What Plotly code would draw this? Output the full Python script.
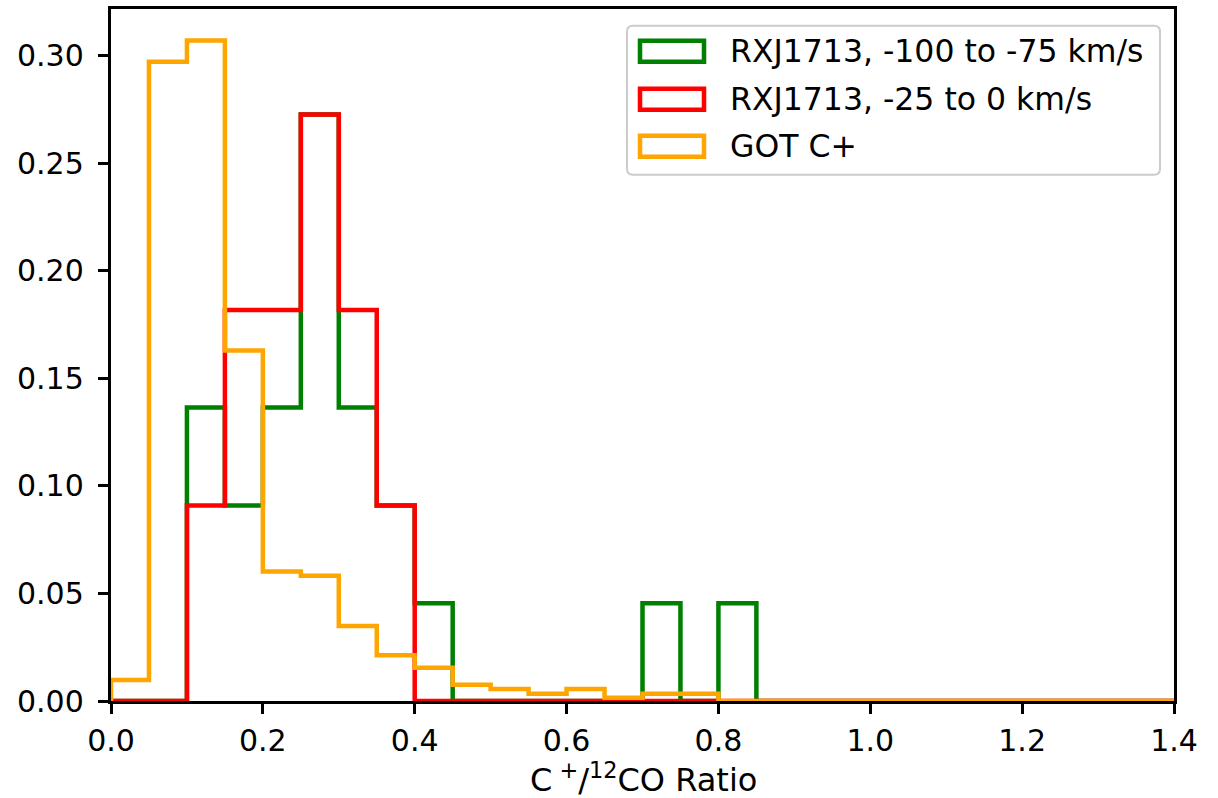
import numpy as np
import plotly.graph_objects as go

# ---- data (bin edges 0 .. 1.4, width 0.05) ----
bin_edges = [round(0.05 * i, 2) for i in range(29)]

green_vals = [0, 0, 0.1364, 0.0909, 0.1364, 0.2727, 0.1364, 0.0909, 0.0455, 0, 0, 0, 0, 0,
              0.0455, 0, 0.0455, 0, 0, 0, 0, 0, 0, 0, 0, 0, 0, 0]
red_vals = [0, 0, 0.0909, 0.1818, 0.1818, 0.2727, 0.1818, 0.0909, 0, 0, 0, 0, 0, 0,
            0, 0, 0, 0, 0, 0, 0, 0, 0, 0, 0, 0, 0, 0]
orange_vals = [0.0098, 0.2972, 0.307, 0.163, 0.0602, 0.0582, 0.0349, 0.0213, 0.0154, 0.0075,
               0.0056, 0.0034, 0.0056, 0.0015, 0.0034, 0.0034, 0, 0, 0, 0, 0, 0, 0, 0, 0, 0, 0, 0]

series_names = ["RXJ1713, -100 to -75 km/s", "RXJ1713, -25 to 0 km/s", "GOT C+"]
series_colors = ["#008000", "#ff0000", "#ffa500"]
x_ticks = [0.0, 0.2, 0.4, 0.6, 0.8, 1.0, 1.2, 1.4]
y_ticks = [0.0, 0.05, 0.10, 0.15, 0.20, 0.25, 0.30]

FONT = "DejaVu Sans"
FS = 30
LFS = 31.5


def step_path(edges, vals):
    xs = [edges[0]]
    ys = [0]
    for i, v in enumerate(vals):
        xs += [edges[i], edges[i + 1]]
        ys += [v, v]
    xs.append(edges[-1])
    ys.append(0)
    return xs, ys


fig = go.Figure()
for vals, name, col in zip([green_vals, red_vals, orange_vals], series_names, series_colors):
    xs, ys = step_path(bin_edges, vals)
    fig.add_trace(go.Scatter(x=xs, y=ys, mode="lines", name=name,
                             line=dict(color=col, width=4.5), showlegend=False,
                             hoverinfo="skip"))

# plot area pixel geometry
W, H = 1218, 798
L, R, T, B = 111, 1174, 9.3, 701.5


def px_to_paper(px, py):
    return (px - L) / (R - L), (B - py) / (B - T)


# legend box (rounded)
bx0, bx1, by0, by1 = 627, 1160, 26, 175
rad = 6
def P(px, py):
    x, y = px_to_paper(px, py)
    return f"{x:.5f},{y:.5f}"

path = (f"M {P(bx0+rad, by0)} L {P(bx1-rad, by0)} Q {P(bx1, by0)} {P(bx1, by0+rad)} "
        f"L {P(bx1, by1-rad)} Q {P(bx1, by1)} {P(bx1-rad, by1)} "
        f"L {P(bx0+rad, by1)} Q {P(bx0, by1)} {P(bx0, by1-rad)} "
        f"L {P(bx0, by0+rad)} Q {P(bx0, by0)} {P(bx0+rad, by0)} Z")
shapes = [dict(type="path", path=path, xref="paper", yref="paper",
               line=dict(color="#cccccc", width=2), fillcolor="rgba(255,255,255,0.8)")]

annotations = []
row_y = [51.5, 99.5, 146.5]
for name, col, ry in zip(series_names, series_colors, row_y):
    x0, y0 = px_to_paper(640, ry - 10.5)
    x1, y1 = px_to_paper(704, ry + 10.5)
    shapes.append(dict(type="rect", xref="paper", yref="paper", x0=x0, x1=x1, y0=y1, y1=y0,
                       line=dict(color=col, width=4.5), fillcolor="rgba(0,0,0,0)"))
    tx, ty = px_to_paper(728, ry)
    annotations.append(dict(text=name, x=tx, y=ty, xref="paper", yref="paper",
                            xanchor="left", yanchor="middle", showarrow=False,
                            font=dict(family=FONT, size=LFS, color="black")))

# x-axis title as annotation (centred under plot)
ttx, tty = px_to_paper((L + R) / 2 + 1, 779)
annotations.append(dict(text="C<sup> +</sup>/<sup>12</sup>CO Ratio", x=ttx, y=tty,
                        xref="paper", yref="paper", xanchor="center", yanchor="middle",
                        showarrow=False, font=dict(family=FONT, size=32, color="black")))

fig.update_layout(
    width=W, height=H,
    margin=dict(l=L, r=W - R, t=T, b=H - B, pad=0),
    paper_bgcolor="white", plot_bgcolor="white",
    font=dict(family=FONT, size=FS, color="black"),
    shapes=shapes, annotations=annotations,
    showlegend=False,
)
axis_common = dict(showline=True, linecolor="black", linewidth=2.5, mirror=True,
                   showgrid=False, zeroline=False, ticks="outside", ticklen=10.5,
                   tickwidth=2.5, tickcolor="black", automargin=False,
                   tickfont=dict(family=FONT, size=FS, color="black"))
fig.update_xaxes(range=[0, 1.4], tickvals=x_ticks,
                 ticktext=[f"{v:.1f}" for v in x_ticks], ticklabelstandoff=1,
                 **axis_common)
fig.update_yaxes(range=[0, 0.3217], tickvals=y_ticks,
                 ticktext=[f"{v:.2f}" for v in y_ticks], ticklabelstandoff=8,
                 **axis_common)

fig.write_html("out.html")
